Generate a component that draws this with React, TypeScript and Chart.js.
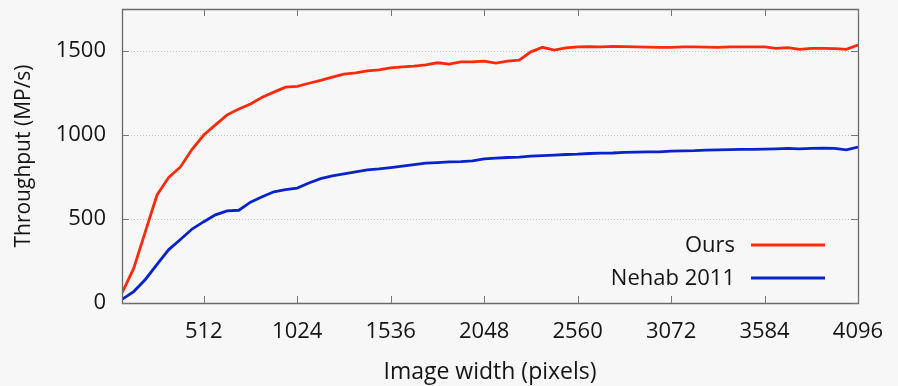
import { useEffect, useRef } from "react";
import { Chart, registerables } from "chart.js";

Chart.register(...registerables);

const imageWidths = [
  64, 128, 192, 256, 320, 384, 448, 512, 576, 640, 704, 768, 832, 896, 960, 1024,
  1088, 1152, 1216, 1280, 1344, 1408, 1472, 1536, 1600, 1664, 1728, 1792, 1856, 1920, 1984, 2048,
  2112, 2176, 2240, 2304, 2368, 2432, 2496, 2560, 2624, 2688, 2752, 2816, 2880, 2944, 3008, 3072,
  3136, 3200, 3264, 3328, 3392, 3456, 3520, 3584, 3648, 3712, 3776, 3840, 3904, 3968, 4032, 4096,
];

const oursThroughput = [
  60, 206, 425, 643, 748, 810, 915, 1000, 1060, 1120, 1155, 1185, 1225, 1255, 1285, 1290,
  1308, 1325, 1345, 1362, 1370, 1382, 1388, 1400, 1405, 1410, 1418, 1430, 1422, 1435, 1435, 1440,
  1428, 1440, 1445, 1495, 1522, 1505, 1518, 1524, 1526, 1524, 1528, 1526, 1524, 1523, 1522, 1522,
  1525, 1524, 1523, 1522, 1524, 1525, 1524, 1524, 1516, 1520, 1510, 1516, 1516, 1514, 1510, 1536,
];

const nehabThroughput = [
  22, 68, 140, 230, 318, 378, 440, 484, 525, 548, 552, 600, 632, 662, 675, 684,
  714, 740, 756, 768, 780, 792, 798, 806, 815, 824, 832, 836, 840, 842, 846, 858,
  862, 866, 868, 874, 877, 880, 884, 886, 890, 892, 893, 896, 898, 899, 900, 904,
  906, 907, 910, 912, 913, 914, 915, 916, 918, 920, 918, 920, 922, 920, 912, 928,
];

const seriesLabels = ["Ours", "Nehab 2011"];
const seriesColors = ["#ff2a0a", "#0a22cc"];

const xTickValues = [512, 1024, 1536, 2048, 2560, 3072, 3584, 4096];
const yTickValues = [0, 500, 1000, 1500];

const xTitle = "Image width (pixels)";
const yTitle = "Throughput (MP/s)";

const FONT = "'Open Sans', 'Noto Sans', sans-serif";
const BG = "#f7f7f7";
const INK = "#151515";

const framePlugin = {
  id: "frame",
  beforeDraw(chart: any) {
    const ctx = chart.ctx;
    ctx.save();
    ctx.fillStyle = BG;
    ctx.fillRect(0, 0, chart.width, chart.height);
    ctx.restore();
  },
  beforeDatasetsDraw(chart: any) {
    const { ctx, chartArea: a, scales } = chart;
    const y = scales.y;
    ctx.save();
    ctx.strokeStyle = "#c0c0c0";
    ctx.lineWidth = 1;
    ctx.setLineDash([1, 2]);
    for (const v of yTickValues) {
      if (v === 0) continue;
      const py = Math.round(y.getPixelForValue(v)) + 0.5;
      ctx.beginPath();
      ctx.moveTo(a.left, py);
      ctx.lineTo(a.right, py);
      ctx.stroke();
    }
    ctx.restore();
  },
  afterDatasetsDraw(chart: any) {
    const { ctx, chartArea: a, scales } = chart;
    const x = scales.x;
    const y = scales.y;
    ctx.save();
    ctx.strokeStyle = "#6a6a6a";
    ctx.lineWidth = 1.3;
    ctx.beginPath();
    ctx.rect(Math.round(a.left) + 0.5, Math.round(a.top) + 0.5, Math.round(a.right - a.left), Math.round(a.bottom - a.top));
    ctx.stroke();
    const tl = 7;
    ctx.lineWidth = 1;
    ctx.strokeStyle = "#777";
    ctx.beginPath();
    for (const v of xTickValues) {
      const px = Math.round(x.getPixelForValue(v)) + 0.5;
      ctx.moveTo(px, a.bottom);
      ctx.lineTo(px, a.bottom - tl);
      ctx.moveTo(px, a.top);
      ctx.lineTo(px, a.top + tl);
    }
    for (const v of yTickValues) {
      const py = Math.round(y.getPixelForValue(v)) + 0.5;
      ctx.moveTo(a.left, py);
      ctx.lineTo(a.left + tl, py);
      ctx.moveTo(a.right, py);
      ctx.lineTo(a.right - tl, py);
    }
    ctx.stroke();

    // legend
    const ds = chart.data.datasets;
    const rowY = [245, 278];
    ctx.font = `22px ${FONT}`;
    ctx.textAlign = "right";
    ctx.textBaseline = "middle";
    ds.forEach((d: any, i: number) => {
      ctx.fillStyle = INK;
      ctx.fillText(d.label, 735, rowY[i] + 1);
      ctx.strokeStyle = d.borderColor;
      ctx.lineWidth = 3;
      ctx.beginPath();
      ctx.moveTo(751, rowY[i]);
      ctx.lineTo(825, rowY[i]);
      ctx.stroke();
    });
    ctx.restore();
  },
};

export default function App() {
  const ref = useRef<HTMLCanvasElement | null>(null);

  useEffect(() => {
    document.body.style.margin = "0";
    document.body.style.background = BG;
    const canvas = ref.current;
    if (!canvas) return;
    const chart = new Chart(canvas, {
      type: "line",
      data: {
        datasets: [
          {
            label: seriesLabels[0],
            data: imageWidths.map((w, i) => ({ x: w, y: oursThroughput[i] })),
            borderColor: seriesColors[0],
            backgroundColor: seriesColors[0],
            borderWidth: 2.8,
            pointRadius: 0,
            tension: 0,
          },
          {
            label: seriesLabels[1],
            data: imageWidths.map((w, i) => ({ x: w, y: nehabThroughput[i] })),
            borderColor: seriesColors[1],
            backgroundColor: seriesColors[1],
            borderWidth: 2.8,
            pointRadius: 0,
            tension: 0,
          },
        ],
      },
      options: {
        responsive: false,
        animation: false,
        layout: { padding: { top: 9, right: 40, left: 0, bottom: 0 } },
        plugins: {
          legend: { display: false },
          tooltip: { enabled: false },
        },
        scales: {
          x: {
            type: "linear",
            min: 64,
            max: 4096,
            grid: { display: false, drawTicks: false },
            border: { display: false },
            afterBuildTicks: (s: any) => {
              s.ticks = xTickValues.map((v) => ({ value: v }));
            },
            afterFit: (s: any) => {
              s.height = 83;
              s.paddingLeft = 0;
              s.paddingRight = 0;
            },
            ticks: {
              padding: 16,
              maxRotation: 0,
              autoSkip: false,
              color: INK,
              font: { family: FONT, size: 22 },
              callback: (v: any) => String(v),
            },
            title: {
              display: true,
              text: xTitle,
              color: INK,
              font: { family: FONT, size: 23 },
              padding: { top: 0, bottom: 0 },
            },
          },
          y: {
            type: "linear",
            min: 0,
            max: 1750,
            grid: { display: false, drawTicks: false },
            border: { display: false },
            afterBuildTicks: (s: any) => {
              s.ticks = yTickValues.map((v) => ({ value: v }));
            },
            afterFit: (s: any) => {
              s.width = 122;
              s.paddingTop = 0;
              s.paddingBottom = 0;
            },
            ticks: {
              padding: 16,
              color: INK,
              font: { family: FONT, size: 22 },
              callback: (v: any) => String(v),
            },
            title: {
              display: true,
              text: yTitle,
              color: INK,
              font: { family: FONT, size: 21 },
              padding: { top: 11, bottom: 0 },
            },
          },
        },
      },
      plugins: [framePlugin],
    });
    return () => chart.destroy();
  }, []);

  return (
    <div style={{ position: "fixed", left: 0, top: 0, width: 898, height: 386, background: BG }}>
      <canvas ref={ref} width={898} height={386} style={{ width: 898, height: 386, display: "block" }} />
    </div>
  );
}
